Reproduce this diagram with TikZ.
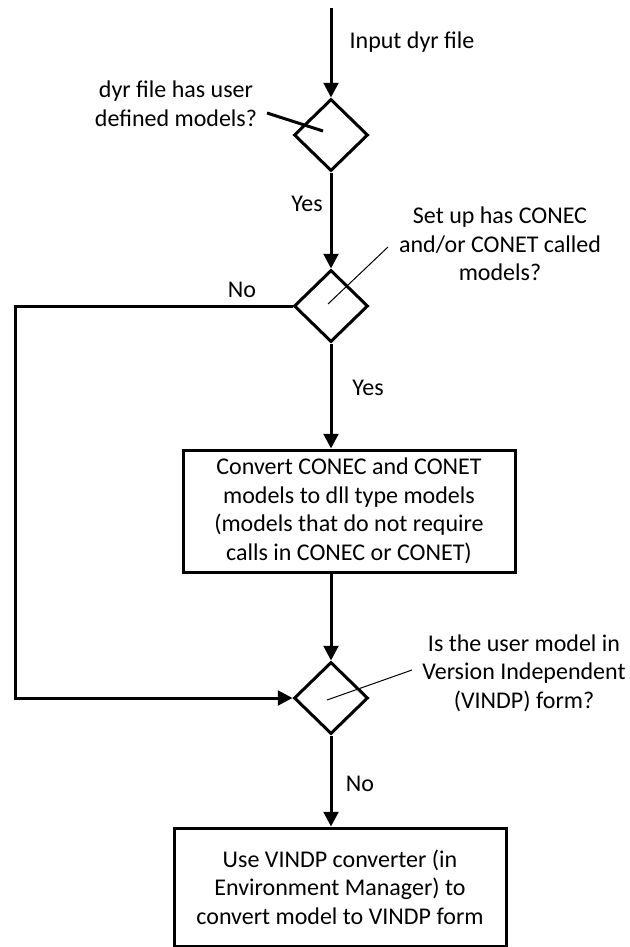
\documentclass[tikz,border=0pt]{standalone}
\usepackage{fontspec}
\setmainfont{Carlito}
\usetikzlibrary{shapes.geometric,arrows.meta}
\begin{document}
\begin{tikzpicture}[x=0.75pt,y=-0.75pt,
  every node/.style={font=\fontsize{18}{21.4}\selectfont},
  line/.style={line width=2.25pt},
  arr/.style={line width=2.25pt,-{Triangle[width=11pt,length=11pt]}},
  thin line/.style={line width=0.75pt},
  decision/.style={diamond,draw,line width=2.25pt,inner sep=0pt,minimum width=55.5pt,minimum height=54pt},
  process/.style={rectangle,draw,line width=2.25pt,inner sep=0pt,align=center},
  lbl/.style={align=center,inner sep=0pt}]
\useasboundingbox (0,0) rectangle (630,947);
% nodes
\coordinate (start) at (331,8);
\node[decision] (d1) at (331,135) {};
\node[decision] (d2) at (331,306) {};
\node[decision] (d3) at (331,698) {};
\node[process,minimum width=249pt,minimum height=91.5pt] (b1) at (349,511)
  {Convert CONEC and CONET\\models to dll type models\\(models that do not require\\calls in CONEC or CONET)};
\node[process,minimum width=249pt,minimum height=88.5pt] (b2) at (340,887)
  {Use VINDP converter (in\\Environment Manager) to\\convert model to VINDP form};
% labels
\node[lbl] (tin) at (412,42) {Input dyr file};
\node[lbl] (q1) at (176,104) {dyr file has user\\defined models?};
\node[lbl] (q2) at (500,244) {Set up has CONEC\\and/or CONET called\\models?};
\node[lbl] (q3) at (524,673) {Is the user model in\\Version Independent\\(VINDP) form?};
\node[lbl] (y1) at (307,204) {Yes};
\node[lbl] (n1) at (242,290) {No};
\node[lbl] (y2) at (368,388) {Yes};
\node[lbl] (n2) at (360,784) {No};
% annotation lines
\coordinate (a1s) at (267,113);
\coordinate (a1e) at (323,131);
\coordinate (a2s) at (388,247);
\coordinate (a2e) at (328,304);
\coordinate (a3s) at (412,670);
\coordinate (a3e) at (327,700);
\draw[line] (a1s) -- (a1e);
\draw[thin line] (a2s) -- (a2e);
\draw[thin line] (a3s) -- (a3e);
% connectors
\coordinate (c1) at (15,306);
\coordinate (c2) at (15,698);
\draw[arr] (start) -- (d1.north);
\draw[arr] (d1.south) -- (d2.north);
\draw[arr] (d2.south) -- (d2.south |- b1.north);
\draw[arr] (b1.south -| d3.north) -- (d3.north);
\draw[arr] (d3.south) -- (d3.south |- b2.north);
\draw[arr,line join=miter] (d2.west) -- (c1) -- (c2) -- (d3.west);
\end{tikzpicture}
\end{document}
